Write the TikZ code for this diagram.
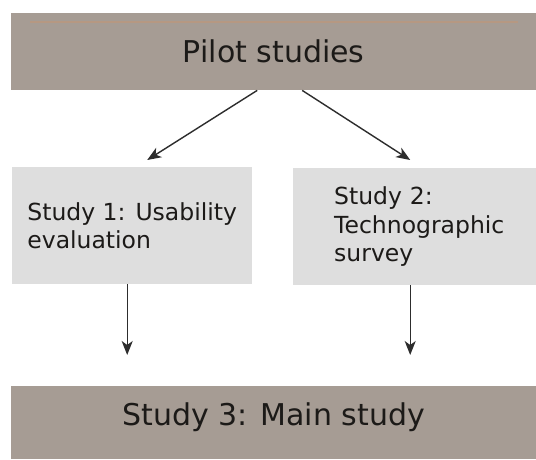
\documentclass[tikz,border=0pt]{standalone}
\usepackage{fontspec}
\setmainfont{DejaVu Sans}
\usetikzlibrary{arrows.meta}
\definecolor{barfill}{RGB}{166,156,148}
\definecolor{boxfill}{RGB}{222,222,222}
\definecolor{barline}{RGB}{182,152,130}
\definecolor{inkdark}{RGB}{28,26,24}
\definecolor{arrowgray}{RGB}{45,45,45}
\tikzset{
  bar/.style={fill=barfill, inner sep=0pt, minimum width=525pt, anchor=north west,
    font=\fontsize{30}{36}\selectfont, text=inkdark},
  studybox/.style={fill=boxfill, inner sep=0pt, minimum height=117pt, anchor=north west,
    align=left, font=\fontsize{23.5}{28.5}\selectfont, text=inkdark},
  flow/.style={draw=arrowgray, line width=1.4pt, -{Stealth[length=14pt,width=11pt,inset=4pt]}}
}
\begin{document}
\begin{tikzpicture}[x=1pt,y=-1pt]
\useasboundingbox[fill=white] (0,0) rectangle (536,459);

% top and bottom bars
\node[bar, text height=49.7pt, text depth=27.3pt] (pilot) at (11,13) {Pilot studies};
\draw[barline, line width=2pt] (30,22) -- (518,22);
\node[bar, text height=39pt, text depth=34pt] (main) at (11,386) {Study 3: Main study};

% the two middle studies
\node[studybox, minimum width=240pt] (s1) at (12,167) {Study 1: Usability\\evaluation};
\node[studybox, minimum width=243pt, text width=161pt] (s2) at (293,168) {Study 2:\\Technographic\\survey};

% connectors
\draw[flow] ([xshift=-16.5pt]pilot.south) -- ([xshift=15pt,yshift=7pt]s1.north);
\draw[flow] ([xshift=28.5pt]pilot.south) -- ([xshift=-4.5pt,yshift=8pt]s2.north);
\draw[flow] ([xshift=-5pt]s1.south) -- ([xshift=-146.5pt,yshift=31pt]main.north);
\draw[flow] ([xshift=-4.5pt]s2.south) -- ([xshift=136.5pt,yshift=31pt]main.north);
\end{tikzpicture}
\end{document}
